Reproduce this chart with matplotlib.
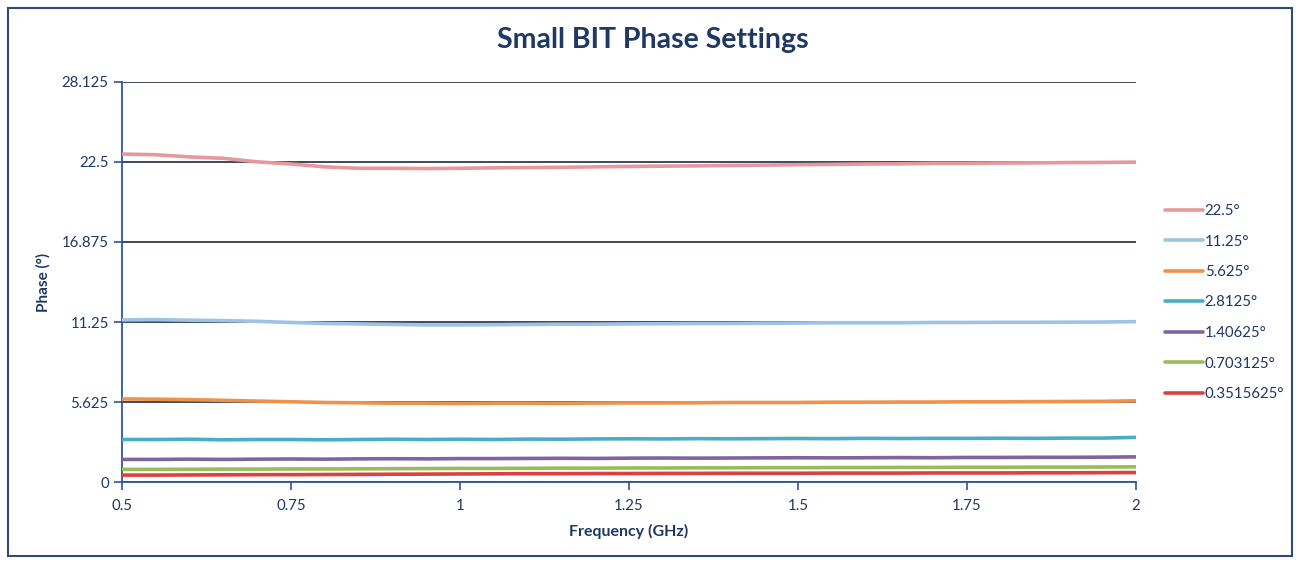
import matplotlib
matplotlib.use("Agg")
import matplotlib.pyplot as plt
from matplotlib.patches import Rectangle

freq = [0.5, 0.55, 0.6, 0.65, 0.7, 0.75, 0.8, 0.85, 0.9, 0.95, 1.0, 1.05, 1.1, 1.15, 1.2, 1.25,
        1.3, 1.35, 1.4, 1.45, 1.5, 1.55, 1.6, 1.65, 1.7, 1.75, 1.8, 1.85, 1.9, 1.95, 2.0]

s_22_5 = [23.05, 23.0, 22.85, 22.75, 22.5, 22.35, 22.15, 22.05, 22.05, 22.03, 22.05, 22.08, 22.1, 22.12,
          22.15, 22.18, 22.2, 22.22, 22.25, 22.27, 22.3, 22.32, 22.35, 22.36, 22.4, 22.4, 22.42, 22.43,
          22.45, 22.46, 22.48]
s_11_25 = [11.4, 11.42, 11.38, 11.35, 11.3, 11.22, 11.15, 11.12, 11.08, 11.05, 11.05, 11.06, 11.08, 11.1,
           11.1, 11.12, 11.13, 11.15, 11.15, 11.17, 11.18, 11.2, 11.2, 11.2, 11.22, 11.22, 11.23, 11.23,
           11.24, 11.25, 11.28]
s_5_625 = [5.85, 5.83, 5.8, 5.75, 5.7, 5.65, 5.6, 5.58, 5.55, 5.55, 5.53, 5.55, 5.55, 5.54, 5.56, 5.57,
           5.57, 5.58, 5.6, 5.6, 5.6, 5.62, 5.62, 5.63, 5.63, 5.65, 5.65, 5.66, 5.67, 5.68, 5.72]
s_2_8125 = [3.0, 3.0, 3.02, 2.98, 3.0, 3.0, 2.98, 3.0, 3.02, 3.0, 3.02, 3.0, 3.03, 3.02, 3.04, 3.05,
            3.04, 3.06, 3.05, 3.06, 3.07, 3.06, 3.08, 3.07, 3.08, 3.08, 3.09, 3.08, 3.1, 3.1, 3.15]
s_1_40625 = [1.6, 1.6, 1.62, 1.6, 1.62, 1.63, 1.62, 1.64, 1.65, 1.64, 1.66, 1.66, 1.67, 1.68, 1.67, 1.69,
             1.7, 1.69, 1.7, 1.71, 1.72, 1.71, 1.72, 1.73, 1.72, 1.74, 1.74, 1.75, 1.75, 1.76, 1.78]
s_0_703125 = [0.9, 0.9, 0.91, 0.92, 0.92, 0.93, 0.93, 0.94, 0.95, 0.96, 0.97, 0.97, 0.98, 0.99, 0.99, 1.0,
              1.0, 1.01, 1.01, 1.02, 1.02, 1.03, 1.03, 1.04, 1.04, 1.05, 1.05, 1.06, 1.06, 1.07, 1.08]
s_0_3515625 = [0.5, 0.5, 0.51, 0.52, 0.53, 0.53, 0.54, 0.55, 0.56, 0.57, 0.58, 0.59, 0.6, 0.6, 0.61, 0.61,
               0.62, 0.62, 0.63, 0.63, 0.63, 0.64, 0.64, 0.64, 0.65, 0.65, 0.65, 0.66, 0.66, 0.67, 0.68]

series_labels = ["22.5°", "11.25°", "5.625°", "2.8125°", "1.40625°", "0.703125°", "0.3515625°"]
series_values = [s_22_5, s_11_25, s_5_625, s_2_8125, s_1_40625, s_0_703125, s_0_3515625]
series_colors = ["#E8979D", "#9DC3E6", "#F0914A", "#4BACC6", "#8064A2", "#9BBB59", "#D9423F"]

xticks = [0.5, 0.75, 1.0, 1.25, 1.5, 1.75, 2.0]
xtick_labels = ["0.5", "0.75", "1", "1.25", "1.5", "1.75", "2"]
yticks = [0, 5.625, 11.25, 16.875, 22.5, 28.125]
ytick_labels = ["0", "5.625", "11.25", "16.875", "22.5", "28.125"]

navy = "#1F3864"
axis_blue = "#2F5597"

plt.rcParams['font.family'] = ['Lato', 'DejaVu Sans']

fig = plt.figure(figsize=(13.05, 5.64), dpi=100)
ax = fig.add_axes([0.0935, 0.145, 0.777, 0.71])

for vals, lab, col in zip(series_values, series_labels, series_colors):
    ax.plot(freq, vals, color=col, lw=2.6, label=lab, solid_capstyle='round', zorder=3)

ax.set_xlim(0.5, 2.0)
ax.set_ylim(0, 28.125)
ax.set_xticks(xticks)
ax.set_xticklabels(xtick_labels)
ax.set_yticks(yticks)
ax.set_yticklabels(ytick_labels)

ax.yaxis.grid(True, color="#1B2A44", lw=1.2)
ax.set_axisbelow(True)
for side in ["top", "right"]:
    ax.spines[side].set_visible(False)
for side in ["left", "bottom"]:
    ax.spines[side].set_color(axis_blue)
    ax.spines[side].set_linewidth(1.3)

ax.tick_params(axis='both', colors=axis_blue, direction='out', length=6, width=1.2,
               labelcolor=navy, labelsize=10.8)
ax.tick_params(axis='x', pad=6)

ax.set_xlabel("Frequency (GHz)", fontsize=11.5, fontweight='bold', color=navy, labelpad=8)
ax.set_ylabel("Phase (°)", fontsize=11, fontweight='bold', color=navy, labelpad=8)

fig.text(0.5, 0.929, "Small BIT Phase Settings", ha='center', va='center',
         fontsize=20.5, fontweight='bold', color=navy)

leg = fig.legend(loc='upper left', bbox_to_anchor=(1165 / 1305, 1 - 204 / 564), frameon=False,
                 fontsize=10.8, handlelength=2.5, handletextpad=0.15, labelspacing=1.1,
                 borderpad=0, borderaxespad=0)
for t in leg.get_texts():
    t.set_color(navy)

fig.patches.append(Rectangle((0.006, 0.015), 0.984, 0.97, transform=fig.transFigure,
                             fill=False, edgecolor="#2E4A7A", lw=1.5))

fig.savefig("out.png", dpi=100)
